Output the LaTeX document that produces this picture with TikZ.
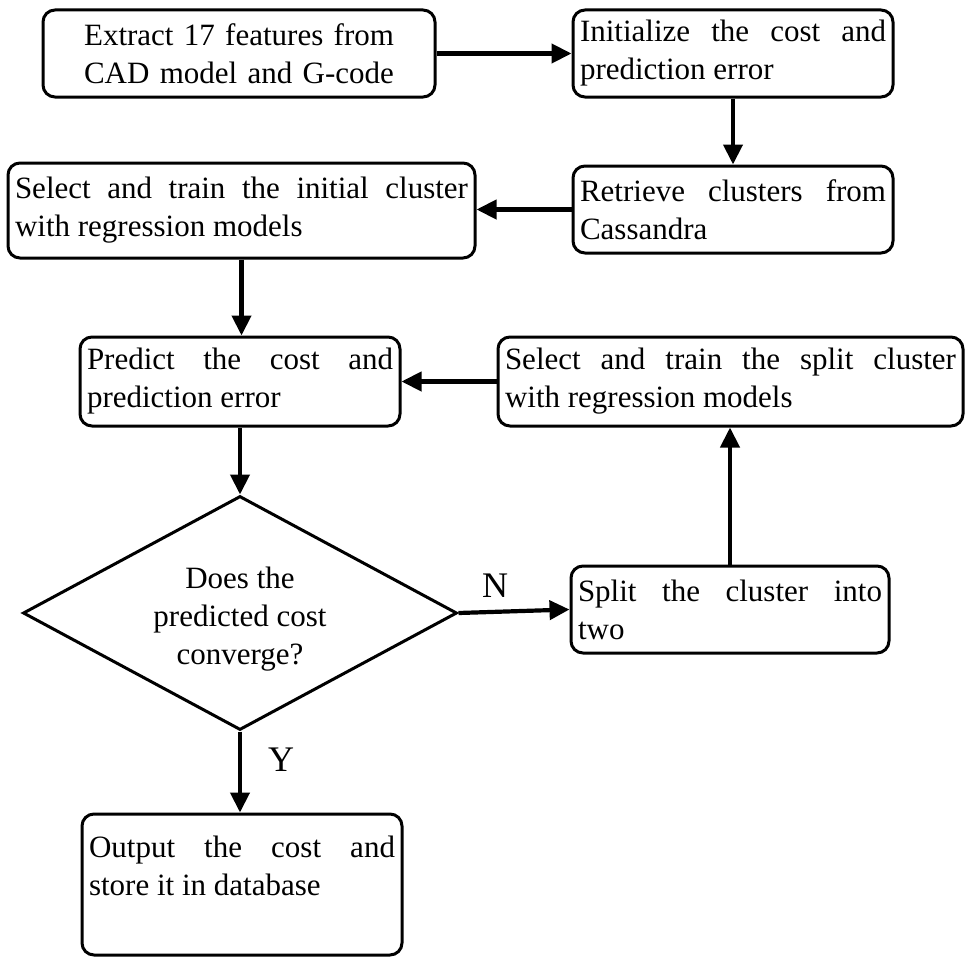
\documentclass[tikz,border=0pt]{standalone}
\usepackage{fontspec}
\setmainfont{Liberation Serif}
\usetikzlibrary{arrows.meta,shapes.geometric}
\hyphenpenalty=10000
\tolerance=10000

\begin{document}
\begin{tikzpicture}[x=1pt,y=-1pt,
  every node/.style={font=\fontsize{31}{38}\selectfont},
  box/.style={draw, line width=3pt, rounded corners=12pt, inner xsep=7pt, inner ysep=4pt,
              align=justify, minimum height=#1},
  box/.default=87pt,
  decision/.style={draw, line width=3pt, diamond, aspect=1.85, inner sep=0pt,
                   minimum width=434pt, minimum height=234pt},
  flow/.style={line width=4.2pt, -{Triangle[length=20pt,width=19pt]}},
  tag/.style={font=\fontsize{36}{40}\selectfont}
]
\useasboundingbox (0,0) rectangle (971,958);

% process steps
\node[box, align=center, text width=378pt] (ext) at (239,53.5)
  {Extract 17 features from\\CAD model and G-code};
\node[box, text width=306pt] (init) at (733,53.5)
  {Initialize the cost and\linebreak prediction error};
\node[box, text width=306pt] (retr) at (733,209.5)
  {Retrieve clusters from\linebreak Cassandra};
\node[box=95pt, text width=453pt] (selI) at (241.5,210.5)
  {Select and train the initial cluster\linebreak with regression models};
\node[box=89pt, text width=306pt] (pred) at (240,381.5)
  {Predict the cost and\linebreak prediction error};
\node[box=89pt, text width=451pt] (selS) at (730.5,381.5)
  {Select and train the split cluster\linebreak with regression models};
\node[decision] (dia) at (240,613) {};
\node[align=center] (diatext) at ([yshift=-6pt]dia.center)
  {Does the\\predicted cost\\converge?};
\node[box, text width=304pt] (split) at (730,609.5)
  {Split the cluster into\linebreak two};
\node[box=141pt, text width=306pt] (out) at (242,884.5)
  {Output the cost and\linebreak store it in database\\\mbox{}};

% connectors
\draw[flow] (ext) -- (init);
\draw[flow] (init) -- (retr);
\draw[flow] (retr.west) -- (retr.west -| selI.east);
\draw[flow] (selI.south) -- (selI.south |- pred.north);
\draw[flow] (selS) -- (pred);
\draw[flow] (pred) -- (dia);
\draw[flow] (dia.east) -- (split.west);
\draw[flow] (split.north) -- (split.north |- selS.south);
\draw[flow] (dia.south) -- (dia.south |- out.north);

% branch labels
\node[tag] (nlab) at (495,586) {N};
\node[tag] (ylab) at (281,760) {Y};
\end{tikzpicture}
\end{document}
